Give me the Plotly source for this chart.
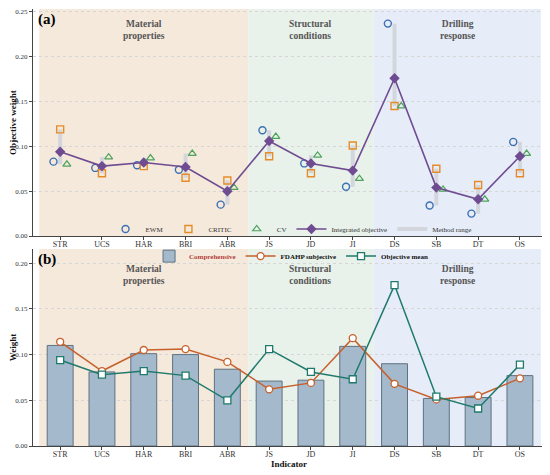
import plotly.graph_objects as go

# 指标与各方法权重
indicators = ['STR', 'UCS', 'HAR', 'BRI', 'ABR', 'JS', 'JD', 'JI', 'DS', 'SB', 'DT', 'OS']
ewm = [0.083, 0.076, 0.079, 0.074, 0.035, 0.118, 0.081, 0.055, 0.237, 0.034, 0.025, 0.105]
critic = [0.119, 0.070, 0.078, 0.065, 0.062, 0.089, 0.070, 0.101, 0.145, 0.075, 0.057, 0.070]
cv = [0.080, 0.088, 0.087, 0.092, 0.054, 0.111, 0.090, 0.064, 0.145, 0.052, 0.041, 0.092]
integrated = [0.094, 0.078, 0.082, 0.077, 0.050, 0.106, 0.081, 0.073, 0.176, 0.054, 0.041, 0.089]
comprehensive = [0.110, 0.081, 0.101, 0.100, 0.084, 0.071, 0.072, 0.109, 0.090, 0.052, 0.053, 0.077]
fdahp = [0.114, 0.082, 0.105, 0.106, 0.092, 0.062, 0.069, 0.118, 0.068, 0.051, 0.055, 0.074]

# 指标分组：名称、起始索引、结束索引、底色
groups = [
    ('Material<br>properties', 0, 4, '#f5e9dc'),
    ('Structural<br>conditions', 5, 7, '#e8f1ea'),
    ('Drilling<br>response', 8, 11, '#e6ecf8'),
]

FONT = 'Liberation Serif, Times New Roman, serif'
idx = list(range(len(indicators)))

fig = go.Figure()

# ---- (a) 客观权重 ----
# 方法范围（三种方法的最小值到最大值）
rx, ry = [], []
for i in idx:
    vals = [ewm[i], critic[i], cv[i]]
    rx += [i, i, None]
    ry += [min(vals), max(vals), None]
fig.add_trace(go.Scatter(x=rx, y=ry, mode='lines', name='Method range',
                         line=dict(color='#d3d6dc', width=4), legendrank=5,
                         xaxis='x', yaxis='y', legend='legend'))

fig.add_trace(go.Scatter(x=[i - 0.16 for i in idx], y=ewm, mode='markers', name='EWM',
                         marker=dict(symbol='circle-open', size=7, color='#3b6fb3', line=dict(width=1.4)),
                         legendrank=1, xaxis='x', yaxis='y', legend='legend'))
fig.add_trace(go.Scatter(x=idx, y=critic, mode='markers', name='CRITIC',
                         marker=dict(symbol='square-open', size=7, color='#e58c2a', line=dict(width=1.4)),
                         legendrank=2, xaxis='x', yaxis='y', legend='legend'))
fig.add_trace(go.Scatter(x=[i + 0.16 for i in idx], y=cv, mode='markers', name='CV',
                         marker=dict(symbol='triangle-up-open', size=7, color='#4ea35b', line=dict(width=1.2)),
                         legendrank=3, xaxis='x', yaxis='y', legend='legend'))
fig.add_trace(go.Scatter(x=idx, y=integrated, mode='lines+markers', name='Integrated objective',
                         line=dict(color='#6f4b91', width=1.6),
                         marker=dict(symbol='diamond', size=8, color='#6f4b91'),
                         legendrank=4, xaxis='x', yaxis='y', legend='legend'))

# ---- (b) 综合权重 ----
fig.add_trace(go.Bar(x=idx, y=comprehensive, width=0.62,
                     name="<b><span style='color:#b4403a'>Comprehensive</span></b>",
                     marker=dict(color='#a4b9cb', line=dict(color='#5f7282', width=1)),
                     xaxis='x2', yaxis='y2', legend='legend2'))
fig.add_trace(go.Scatter(x=idx, y=fdahp, mode='lines+markers', name='<b>FDAHP subjective</b>',
                         line=dict(color='#c6602c', width=1.5),
                         marker=dict(symbol='circle', size=7, color='white', line=dict(color='#c6602c', width=1.3)),
                         xaxis='x2', yaxis='y2', legend='legend2'))
fig.add_trace(go.Scatter(x=idx, y=integrated, mode='lines+markers', name='<b>Objective mean</b>',
                         line=dict(color='#1f7a6c', width=1.5),
                         marker=dict(symbol='square', size=7, color='white', line=dict(color='#1f7a6c', width=1.3)),
                         xaxis='x2', yaxis='y2', legend='legend2'))

# 分组底色和标题
shapes, annotations = [], []
for xr, yr, ty in [('x', 'y', 0.965), ('x2', 'y2', 0.935)]:
    for name, a, b, color in groups:
        shapes.append(dict(type='rect', xref=xr, yref=yr + ' domain', x0=a - 0.5, x1=b + 0.5,
                           y0=0, y1=1, fillcolor=color, line=dict(width=0), layer='below'))
        annotations.append(dict(text='<b>' + name + '</b>', xref=xr, yref=yr + ' domain',
                                x=(a + b) / 2, y=ty, yanchor='top', showarrow=False,
                                font=dict(size=9.5, color='#555555', family=FONT)))
annotations.append(dict(text='<b>(a)</b>', xref='x domain', yref='y domain', x=0.005, y=1.0,
                        xanchor='left', yanchor='top', showarrow=False,
                        font=dict(size=15, color='black', family=FONT)))
annotations.append(dict(text='<b>(b)</b>', xref='x2 domain', yref='y2 domain', x=0.005, y=1.0,
                        xanchor='left', yanchor='top', showarrow=False,
                        font=dict(size=15, color='black', family=FONT)))

xcommon = dict(range=[-0.65, 11.6], tickmode='array', tickvals=idx, ticktext=indicators,
               ticks='outside', ticklen=3, tickcolor='#444', showline=True, linecolor='#444',
               linewidth=1.2, showgrid=False, zeroline=False, ticklabelstandoff=-3,
               tickfont=dict(size=8, color='#333', family=FONT))
ycommon = dict(dtick=0.05, tickformat='.2f', ticks='outside', ticklen=3, tickcolor='#444',
               showline=True, linecolor='#444', linewidth=1.2, zeroline=False,
               showgrid=True, gridcolor='#d6d6d6', griddash='dot', gridwidth=0.8,
               tickfont=dict(size=7, color='#333', family=FONT), automargin=False)

# 页面 body 自带 8px 边距，图幅相应缩小
fig.update_layout(
    width=542, height=467,
    margin=dict(l=25, r=5, t=1, b=29),
    paper_bgcolor='white', plot_bgcolor='white',
    font=dict(family=FONT, color='#222'),
    shapes=shapes, annotations=annotations,
    xaxis=dict(**xcommon, anchor='y'),
    yaxis=dict(**ycommon, domain=[0.4805, 1], range=[0, 0.2533],
               title=dict(text='<b>Objective weight</b>', font=dict(size=9, family=FONT, color='#111'), standoff=1)),
    xaxis2=dict(**xcommon, anchor='y2', automargin=False,
                title=dict(text='<b>Indicator</b>', font=dict(size=9, family=FONT, color='#111'), standoff=2)),
    yaxis2=dict(**ycommon, domain=[0, 0.4508], range=[0, 0.2155],
                title=dict(text='<b>Weight</b>', font=dict(size=9, family=FONT, color='#111'), standoff=1)),
    legend=dict(orientation='h', x=0.504, y=0.4966, xanchor='center', yanchor='middle',
                bgcolor='rgba(0,0,0,0)', font=dict(size=7, color='#333', family=FONT),
                itemwidth=30, tracegroupgap=0),
    legend2=dict(orientation='h', x=0.504, y=0.4345, xanchor='center', yanchor='middle',
                 bgcolor='rgba(0,0,0,0)', font=dict(size=7, color='#111', family=FONT),
                 itemwidth=30),
    showlegend=True,
)

fig.write_html('out.html')
